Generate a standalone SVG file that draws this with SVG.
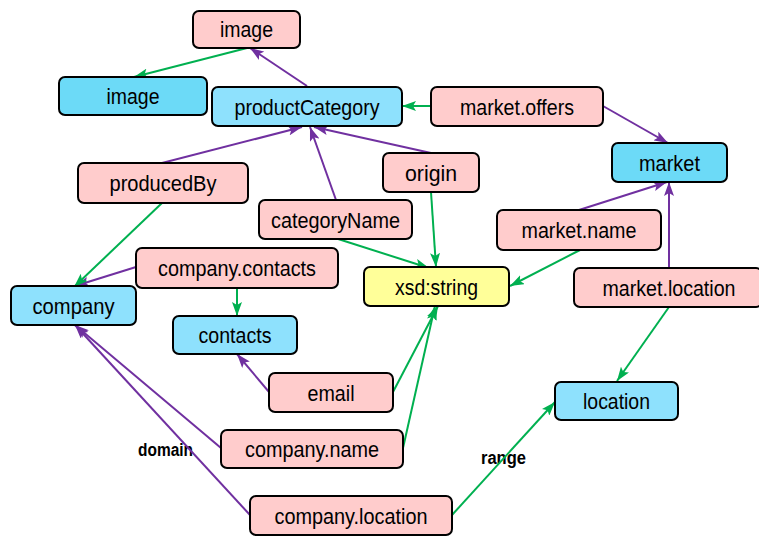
<svg xmlns="http://www.w3.org/2000/svg" width="759" height="536" viewBox="0 0 759 536">
  <style>
    .box { stroke: #000; stroke-width: 2; }
    .prop { fill: #FFCCCC; }
    .cls { fill: #8EE1FD; }
    .cls2 { fill: #6CDAF7; }
    .lit { fill: #FFFF99; }
    .lbl { font-family: "Liberation Sans", Arial, sans-serif; font-size: 22px; fill: #000; text-anchor: middle; }
    .edge-lbl { font-family: "Liberation Sans", Arial, sans-serif; font-size: 18px; font-weight: bold; fill: #000; }
    .dom { stroke: #7030A0; stroke-width: 2; fill: none; marker-end: url(#arrP); }
    .rng { stroke: #00B050; stroke-width: 2; fill: none; marker-end: url(#arrG); }
  </style>
  <defs>
    <marker id="arrP" viewBox="0 0 14 10" refX="14" refY="5" markerWidth="14" markerHeight="10" markerUnits="userSpaceOnUse" orient="auto">
      <path d="M0,0 L14,5 L0,10 L3,5 Z" fill="#7030A0"/>
    </marker>
    <marker id="arrG" viewBox="0 0 14 10" refX="14" refY="5" markerWidth="14" markerHeight="10" markerUnits="userSpaceOnUse" orient="auto">
      <path d="M0,0 L14,5 L0,10 L3,5 Z" fill="#00B050"/>
    </marker>
  </defs>

  <!-- legend words for the two edge kinds, drawn under the lines -->
  <g id="edge-labels">
    <text class="edge-lbl" x="138" y="455.5" textLength="55" lengthAdjust="spacingAndGlyphs">domain</text>
    <text class="edge-lbl" x="481" y="463.5" textLength="45" lengthAdjust="spacingAndGlyphs">range</text>
  </g>

  <!-- connectors: purple = domain, green = range -->
  <g id="connectors">
    <path class="dom" d="M307,86 L250,48"/>
    <path class="dom" d="M162,163 L302,127"/>
    <path class="dom" d="M336,200 L310,127"/>
    <path class="dom" d="M431,153 L314,127"/>
    <path class="dom" d="M603,106 L668,143"/>
    <path class="dom" d="M579,210 L667,182"/>
    <path class="dom" d="M669,268 L669,182"/>
    <path class="dom" d="M136,267 L75,286"/>
    <path class="dom" d="M221,448 L75,325"/>
    <path class="dom" d="M250,515 L75,325"/>
    <path class="dom" d="M269,392 L237,354"/>

    <path class="rng" d="M247,48 L134,77"/>
    <path class="rng" d="M431,106 L402,106"/>
    <path class="rng" d="M162,203 L74,287"/>
    <path class="rng" d="M237,288 L237,316"/>
    <path class="rng" d="M335,238 L429,268"/>
    <path class="rng" d="M431,192 L436,267"/>
    <path class="rng" d="M580,250 L510,286"/>
    <path class="rng" d="M669,307 L617,381"/>
    <path class="rng" d="M393,392 L438,306"/>
    <path class="rng" d="M403,448 L435,306"/>
    <path class="rng" d="M452,515 L555,402"/>
  </g>

  <!-- nodes -->
  <g id="image-prop">
    <rect class="box prop" x="193" y="11" width="107" height="37" rx="6"/>
    <text class="lbl" x="246.5" y="37" textLength="53" lengthAdjust="spacingAndGlyphs">image</text>
  </g>
  <g id="image-class">
    <rect class="box cls2" x="59" y="77" width="148" height="38" rx="6"/>
    <text class="lbl" x="133" y="103.5" textLength="53" lengthAdjust="spacingAndGlyphs">image</text>
  </g>
  <g id="productCategory">
    <rect class="box cls" x="212" y="87" width="190" height="39" rx="6"/>
    <text class="lbl" x="307" y="114.5" textLength="145" lengthAdjust="spacingAndGlyphs">productCategory</text>
  </g>
  <g id="market-offers">
    <rect class="box prop" x="431" y="87" width="172" height="39" rx="6"/>
    <text class="lbl" x="517" y="114.5" textLength="114" lengthAdjust="spacingAndGlyphs">market.offers</text>
  </g>
  <g id="market">
    <rect class="box cls2" x="612" y="143" width="115" height="39" rx="6"/>
    <text class="lbl" x="669.5" y="170.5" textLength="61" lengthAdjust="spacingAndGlyphs">market</text>
  </g>
  <g id="origin">
    <rect class="box prop" x="383" y="153" width="96" height="39" rx="6"/>
    <text class="lbl" x="431" y="180.5" textLength="52" lengthAdjust="spacingAndGlyphs">origin</text>
  </g>
  <g id="producedBy">
    <rect class="box prop" x="78" y="163" width="170" height="40" rx="6"/>
    <text class="lbl" x="163" y="191" textLength="107" lengthAdjust="spacingAndGlyphs">producedBy</text>
  </g>
  <g id="categoryName">
    <rect class="box prop" x="259" y="200" width="153" height="39" rx="6"/>
    <text class="lbl" x="335.5" y="227.5" textLength="129" lengthAdjust="spacingAndGlyphs">categoryName</text>
  </g>
  <g id="market-name">
    <rect class="box prop" x="497" y="210" width="164" height="40" rx="6"/>
    <text class="lbl" x="579" y="238" textLength="115" lengthAdjust="spacingAndGlyphs">market.name</text>
  </g>
  <g id="company-contacts">
    <rect class="box prop" x="136" y="248" width="202" height="40" rx="6"/>
    <text class="lbl" x="237" y="276" textLength="158" lengthAdjust="spacingAndGlyphs">company.contacts</text>
  </g>
  <g id="xsd-string">
    <rect class="box lit" x="364" y="267" width="145" height="39" rx="6"/>
    <text class="lbl" x="436.5" y="294.5" textLength="83" lengthAdjust="spacingAndGlyphs">xsd:string</text>
  </g>
  <g id="market-location">
    <rect class="box prop" x="574" y="268" width="188" height="39" rx="6"/>
    <text class="lbl" x="669" y="295.5" textLength="133" lengthAdjust="spacingAndGlyphs">market.location</text>
  </g>
  <g id="company">
    <rect class="box cls" x="11" y="286" width="125" height="39" rx="6"/>
    <text class="lbl" x="73.5" y="313.5" textLength="82" lengthAdjust="spacingAndGlyphs">company</text>
  </g>
  <g id="contacts">
    <rect class="box cls" x="173" y="316" width="124" height="38" rx="6"/>
    <text class="lbl" x="235" y="343" textLength="73" lengthAdjust="spacingAndGlyphs">contacts</text>
  </g>
  <g id="email">
    <rect class="box prop" x="269" y="373" width="124" height="39" rx="6"/>
    <text class="lbl" x="331" y="400.5" textLength="47" lengthAdjust="spacingAndGlyphs">email</text>
  </g>
  <g id="location">
    <rect class="box cls" x="555" y="382" width="123" height="38" rx="6"/>
    <text class="lbl" x="616.5" y="409" textLength="67" lengthAdjust="spacingAndGlyphs">location</text>
  </g>
  <g id="company-name">
    <rect class="box prop" x="221" y="430" width="182" height="38" rx="6"/>
    <text class="lbl" x="312" y="457" textLength="134" lengthAdjust="spacingAndGlyphs">company.name</text>
  </g>
  <g id="company-location">
    <rect class="box prop" x="250" y="496" width="202" height="39" rx="6"/>
    <text class="lbl" x="351" y="523.5" textLength="153" lengthAdjust="spacingAndGlyphs">company.location</text>
  </g>
</svg>
